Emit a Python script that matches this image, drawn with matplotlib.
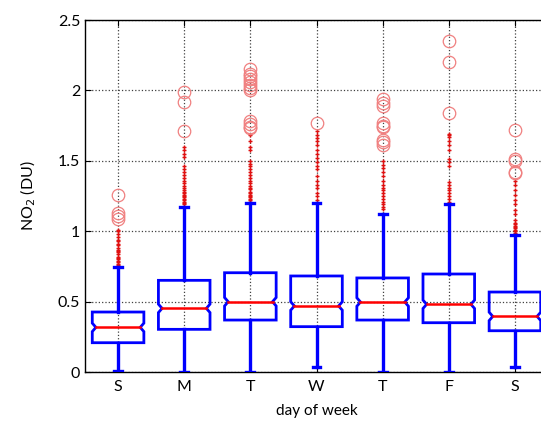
import matplotlib
matplotlib.use("Agg")
import matplotlib.pyplot as plt
from matplotlib.patches import Polygon

days = ['S', 'M', 'T', 'W', 'T', 'F', 'S']
q1 = [0.208, 0.303, 0.369, 0.322, 0.369, 0.350, 0.293]
med = [0.317, 0.452, 0.499, 0.469, 0.497, 0.481, 0.395]
q3 = [0.426, 0.651, 0.705, 0.682, 0.668, 0.696, 0.568]
whislo = [0.005, 0.0, 0.0, 0.033, 0.0, 0.0, 0.038]
whishi = [0.748, 1.174, 1.200, 1.198, 1.120, 1.190, 0.973]
notch_half = [0.03, 0.03, 0.03, 0.03, 0.03, 0.03, 0.03]

plus_S = [1.01, 1.00, 0.98, 0.96, 0.94, 0.93, 0.91, 0.90, 0.88, 0.87, 0.86, 0.85,
          0.84, 0.82, 0.81, 0.80, 0.79, 0.78, 0.77, 0.76]
plus_M = [1.60, 1.58, 1.55, 1.53, 1.46, 1.44, 1.42, 1.40, 1.38, 1.36, 1.34, 1.32,
          1.31, 1.29, 1.28, 1.27, 1.26, 1.25, 1.24, 1.23, 1.22, 1.21, 1.20, 1.19]
plus_T = [1.68, 1.64, 1.60, 1.58, 1.50, 1.48, 1.46, 1.44, 1.42, 1.40, 1.38, 1.36,
          1.34, 1.32, 1.31, 1.30, 1.28, 1.27, 1.26, 1.25, 1.24, 1.23, 1.22, 1.21]
plus_W = [1.71, 1.68, 1.66, 1.64, 1.61, 1.58, 1.55, 1.52, 1.49, 1.46, 1.44, 1.39,
          1.36, 1.33, 1.31, 1.27, 1.25, 1.22]
plus_T2 = [1.50, 1.47, 1.45, 1.42, 1.39, 1.36, 1.33, 1.31, 1.29, 1.27, 1.25, 1.23,
           1.21, 1.19, 1.17, 1.16]
plus_F = [1.69, 1.68, 1.67, 1.64, 1.61, 1.58, 1.51, 1.49, 1.46, 1.35, 1.33, 1.31,
          1.29, 1.27, 1.25, 1.23, 1.21]
plus_S2 = [1.36, 1.33, 1.29, 1.26, 1.22, 1.19, 1.15, 1.12, 1.08, 1.06, 1.05, 1.04,
           1.03, 1.02, 1.01, 1.00, 0.99, 0.98]

circ_S = [1.26, 1.13, 1.11, 1.09]
circ_M = [1.99, 1.92, 1.71]
circ_T = [2.15, 2.12, 2.10, 2.08, 2.06, 2.04, 2.02, 2.00, 1.78, 1.76, 1.74, 1.73]
circ_W = [1.77]
circ_T2 = [1.94, 1.91, 1.89, 1.77, 1.75, 1.74, 1.65, 1.63, 1.61]
circ_F = [2.35, 2.20, 1.84]
circ_S2 = [1.72, 1.51, 1.50, 1.42, 1.41]

plus_all = [plus_S, plus_M, plus_T, plus_W, plus_T2, plus_F, plus_S2]
circ_all = [circ_S, circ_M, circ_T, circ_W, circ_T2, circ_F, circ_S2]

yticks = [0, 0.5, 1, 1.5, 2, 2.5]
ytick_labels = ['0', '0.5', '1', '1.5', '2', '2.5']

plt.rcParams['font.family'] = ['Lato', 'DejaVu Sans']
fig = plt.figure(figsize=(5.41, 4.26), dpi=100)
ax = fig.add_axes([85 / 541, 54 / 426, 463 / 541, 352 / 426])

blue = '#0000ff'
hw = 0.39
nd = 0.055
cap = 0.06
for i in range(len(days)):
    p = i + 1
    n = notch_half[i]
    pts = [(p - hw, q1[i]), (p + hw, q1[i]), (p + hw, med[i] - n), (p + hw - nd, med[i]),
           (p + hw, med[i] + n), (p + hw, q3[i]), (p - hw, q3[i]), (p - hw, med[i] + n),
           (p - hw + nd, med[i]), (p - hw, med[i] - n)]
    ax.add_patch(Polygon(pts, closed=True, fill=False, edgecolor=blue, lw=2.0, zorder=3))
    ax.plot([p - hw + nd, p + hw - nd], [med[i], med[i]], color='red', lw=1.8, zorder=4)
    ax.plot([p, p], [q3[i], whishi[i]], color=blue, lw=2.4, zorder=3)
    ax.plot([p, p], [q1[i], whislo[i]], color=blue, lw=2.4, zorder=3)
    ax.plot([p - cap, p + cap], [whishi[i], whishi[i]], color=blue, lw=2.4, zorder=3)
    ax.plot([p - cap, p + cap], [whislo[i], whislo[i]], color=blue, lw=2.4, zorder=3)
    ax.plot([p] * len(plus_all[i]), plus_all[i], linestyle='none', marker='+',
            color='#e01010', ms=3.2, mew=1.0, zorder=2)
    ax.plot([p] * len(circ_all[i]), circ_all[i], linestyle='none', marker='o',
            mfc='none', mec='#f08080', ms=9, mew=0.9, zorder=2)

ax.set_xlim(0.5, 7.5)
ax.set_ylim(0, 2.5)
ax.set_xticks(range(1, len(days) + 1))
ax.set_xticklabels(days)
ax.set_yticks(yticks)
ax.set_yticklabels(ytick_labels)
ax.tick_params(direction='in', length=4, top=True, right=True, labelsize=11.5, colors='black')
ax.tick_params(axis='x', pad=6)
ax.grid(True, linestyle=':', color='0.25', lw=0.9)
ax.set_axisbelow(True)
ax.set_xlabel('day of week', fontsize=11, labelpad=7)
ax.set_ylabel('NO$_2$ (DU)', fontsize=11.5, labelpad=14)
for s in ax.spines.values():
    s.set_linewidth(1.0)

fig.savefig('out.png', dpi=100)
